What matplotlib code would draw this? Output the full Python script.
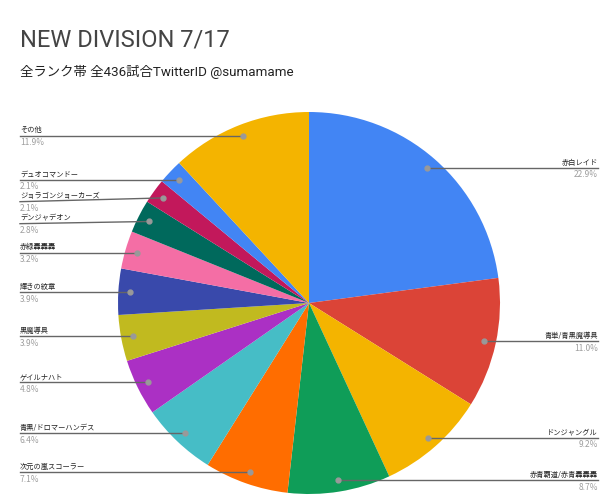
import matplotlib
matplotlib.use("Agg")
import matplotlib.pyplot as plt
import numpy as np

# deck share (percent)
decks = ["赤白レイド", "青単/青黒魔導具", "ドンジャングル", "赤青覇道/赤青轟轟轟",
         "次元の嵐スコーラー", "青黒/ドロマーハンデス", "ゲイルナハト", "黒魔導具",
         "輝きの紋章", "赤緑轟轟轟", "デンジャデオン", "ジョラゴンジョーカーズ",
         "デュオコマンドー", "その他"]
shares = [22.9, 11.0, 9.2, 8.7, 7.1, 6.4, 4.8, 3.9, 3.9, 3.2, 2.8, 2.1, 2.1, 11.9]
colors = ["#4285f4", "#db4437", "#f4b400", "#0f9d58", "#ff6d00", "#46bdc6",
          "#ab30c4", "#c1ba1f", "#3949ab", "#f46ea5", "#00695c", "#c2185b",
          "#4285f4", "#f4b400"]

W, H = 604, 501
fig = plt.figure(figsize=(W / 100, H / 100), dpi=100)
ax = fig.add_axes([0, 0, 1, 1])

cx, cy, R = 309, H - 303, 191
ax.pie(shares, colors=colors, startangle=90, counterclock=False,
       center=(cx, cy), radius=R, wedgeprops=dict(linewidth=0), frame=True)
ax.set_xlim(0, W)
ax.set_ylim(0, H)
ax.set_aspect("equal")
ax.axis("off")

jp = ["Noto Sans CJK JP", "DejaVu Sans"]
total = sum(shares)

# dot positions and side of each label
labels = []
cum = 0
for name, v in zip(decks, shares):
    mid = (cum + v / 2) / total
    cum += v
    ang = np.deg2rad(90 - 360 * mid)
    dx = cx + 0.94 * R * np.cos(ang)
    dy = cy + 0.94 * R * np.sin(ang)
    left = np.cos(ang) < 0
    labels.append([name, v, dx, dy, left, dy])

# spread labels on each side so they don't overlap
GAP = 22
for side in (True, False):
    grp = sorted([l for l in labels if l[4] == side], key=lambda l: -l[3])
    prev = None
    for l in grp:
        if prev is not None and l[5] > prev - GAP:
            l[5] = prev - GAP
        prev = l[5]

for name, v, dx, dy, left, ly in labels:
    if left:
        xe, ha = 20, "left"
    else:
        xe, ha = 598, "right"
    ax.plot([dx, xe], [dy, ly], color="#666666", lw=1, zorder=3)
    ax.plot(dx, dy, "o", color="#999999", ms=3.5, zorder=4)
    ax.text(xe, ly + 1.5, name, ha=ha, va="bottom", fontsize=5.2, family=jp, color="#222222")
    ax.text(xe, ly - 2.5, f"{v:.1f}%", ha=ha, va="top", fontsize=6, family=jp, color="#9e9e9e")

fig.text(20 / W, 1 - 40 / H, "NEW DIVISION 7/17", fontsize=17, color="#444444",
         family=["Roboto", "DejaVu Sans"], va="center", ha="left")
fig.text(20 / W, 1 - 72 / H, "全ランク帯 全436試合TwitterID @sumamame", fontsize=9.6,
         color="#222222", family=["Roboto", "Noto Sans CJK JP"], va="center", ha="left")

fig.savefig("out.png", dpi=100, facecolor="white")
